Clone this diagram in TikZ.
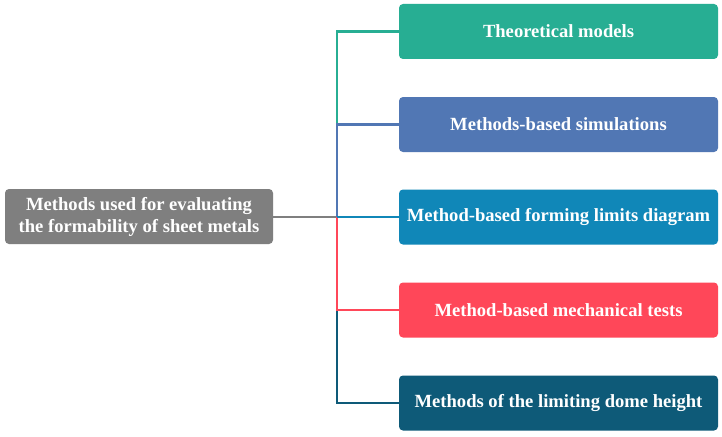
\documentclass[tikz,border=0pt]{standalone}
\usepackage{fontspec}
\setmainfont{Liberation Serif}
\definecolor{cgreen}{HTML}{27AE93}
\definecolor{cblue}{HTML}{5177B4}
\definecolor{clblue}{HTML}{1087B8}
\definecolor{cred}{HTML}{FF4759}
\definecolor{cdark}{HTML}{0E5A78}
\definecolor{cgray}{HTML}{7F7F7F}
\begin{document}
\begin{tikzpicture}[x=1pt,y=-1pt,
  box/.style={rounded corners=4pt, minimum height=55pt, text=white, align=center,
    font=\fontsize{18.6}{22}\selectfont\bfseries, inner sep=0pt},
  child/.style={box, minimum width=319pt},
  link/.style={line width=2.4pt}]
\useasboundingbox[fill=white] (0,0) rectangle (722,436);
\node[box, fill=cgray, minimum width=268pt] (root) at (139,216.5) {Methods used for evaluating\\the formability of sheet metals};
\node[child, fill=cgreen] (c1) at (558.5,31.5) {Theoretical models};
\node[child, fill=cblue] (c2) at (558.5,124.5) {Methods-based simulations};
\node[child, fill=clblue] (c3) at (558.5,217) {Method-based forming limits diagram};
\node[child, fill=cred] (c4) at (558.5,310) {Method-based mechanical tests};
\node[child, fill=cdark] (c5) at (558.5,403) {Methods of the limiting dome height};
\coordinate (j) at (337,217);
\draw[link, cgray] (root.east |- j) -- (j);
\draw[link, cgreen] (j) |- (c1.west);
\draw[link, cdark] (j) |- (c5.west);
\draw[link, cblue] (j) |- (c2.west);
\draw[link, cred] (j) |- (c4.west);
\draw[link, clblue] (j) -- (c3.west);
\end{tikzpicture}
\end{document}
